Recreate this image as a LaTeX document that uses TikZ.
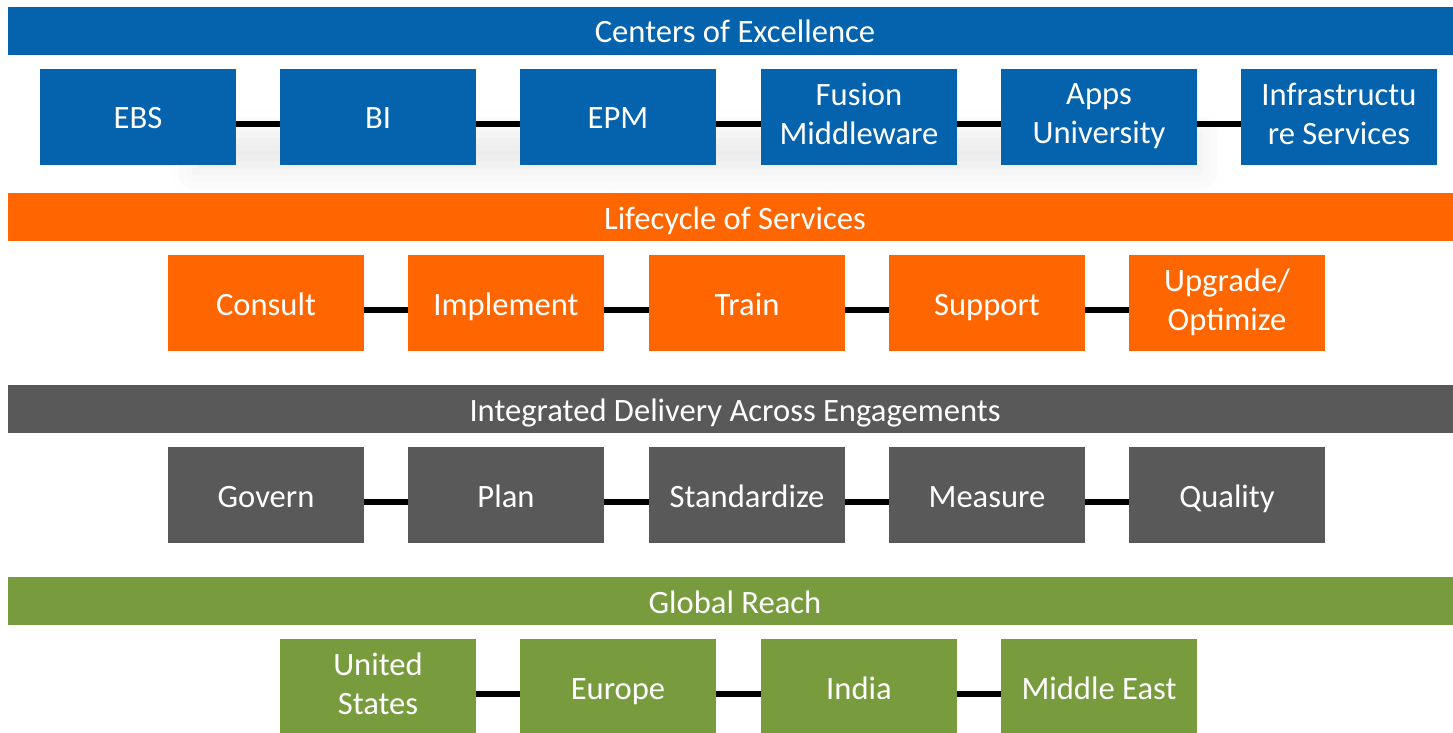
\documentclass[tikz,border=0pt]{standalone}
\usepackage{fontspec}
\setmainfont{Carlito}
\usetikzlibrary{shadows.blur}
\definecolor{coeblue}{RGB}{4,99,172}
\definecolor{lifeorange}{RGB}{255,102,0}
\definecolor{delgray}{RGB}{89,89,89}
\definecolor{reachgreen}{RGB}{119,155,61}
\newcommand{\linestrut}{\rule{0pt}{15pt}\rule[-3pt]{0pt}{3pt}}
\begin{document}
\begin{tikzpicture}[x=0.5pt, y=-0.5pt,
  band/.style={fill=#1, text=white, minimum width=727pt, minimum height=24pt, inner sep=0pt, font=\fontsize{16.3}{19.5}\selectfont, execute at begin node=\linestrut},
  tile/.style={fill=#1, text=white, minimum width=98pt, minimum height=48pt, inner sep=0pt, align=center, font=\fontsize{16.3}{19.5}\selectfont, execute at begin node=\linestrut, execute at end node=\linestrut},
  link/.style={line width=3pt, black}]

\useasboundingbox (0,0) rectangle (1453,733);

% soft shadow under the first row
\path[blur shadow={shadow xshift=0pt, shadow yshift=-6pt, shadow blur radius=12pt, shadow opacity=8}] (195,122) rectangle (1200,160);

\node[band=coeblue] (coe) at (735,31) {Centers of Excellence};
\node[tile=coeblue] (ebs) at (138,117) {EBS};
\node[tile=coeblue] (bi) at (378,117) {BI};
\node[tile=coeblue] (epm) at (618,117) {EPM};
\node[tile=coeblue] (fmw) at (859,117) {Fusion\\Middleware};
\node[tile=coeblue] (apps) at (1099,117) {Apps\\University};
\node[tile=coeblue] (infra) at (1339,117) {Infrastructu\\re Services};

\node[band=lifeorange] (life) at (735,217) {Lifecycle of Services};
\node[tile=lifeorange] (consult) at (266,303) {Consult};
\node[tile=lifeorange] (impl) at (506,303) {Implement};
\node[tile=lifeorange] (train) at (747,303) {Train};
\node[tile=lifeorange] (support) at (987,303) {Support};
\node[tile=lifeorange] (upgrade) at (1227,303) {Upgrade/\\Optimize};

\node[band=delgray] (deliv) at (735,409) {Integrated Delivery Across Engagements};
\node[tile=delgray] (govern) at (266,495) {Govern};
\node[tile=delgray] (plan) at (506,495) {Plan};
\node[tile=delgray] (stand) at (747,495) {Standardize};
\node[tile=delgray] (measure) at (987,495) {Measure};
\node[tile=delgray] (quality) at (1227,495) {Quality};

\node[band=reachgreen] (reach) at (735,601) {Global Reach};
\node[tile=reachgreen] (us) at (378,687) {United\\States};
\node[tile=reachgreen] (europe) at (618,687) {Europe};
\node[tile=reachgreen] (india) at (859,687) {India};
\node[tile=reachgreen] (mideast) at (1099,687) {Middle East};

% connectors sit a little below the middle of the tiles
\draw[link] ([yshift=-3.5pt]ebs.east) -- ([yshift=-3.5pt]bi.west);
\draw[link] ([yshift=-3.5pt]bi.east) -- ([yshift=-3.5pt]epm.west);
\draw[link] ([yshift=-3.5pt]epm.east) -- ([yshift=-3.5pt]fmw.west);
\draw[link] ([yshift=-3.5pt]fmw.east) -- ([yshift=-3.5pt]apps.west);
\draw[link] ([yshift=-3.5pt]apps.east) -- ([yshift=-3.5pt]infra.west);

\draw[link] ([yshift=-3.5pt]consult.east) -- ([yshift=-3.5pt]impl.west);
\draw[link] ([yshift=-3.5pt]impl.east) -- ([yshift=-3.5pt]train.west);
\draw[link] ([yshift=-3.5pt]train.east) -- ([yshift=-3.5pt]support.west);
\draw[link] ([yshift=-3.5pt]support.east) -- ([yshift=-3.5pt]upgrade.west);

\draw[link] ([yshift=-3.5pt]govern.east) -- ([yshift=-3.5pt]plan.west);
\draw[link] ([yshift=-3.5pt]plan.east) -- ([yshift=-3.5pt]stand.west);
\draw[link] ([yshift=-3.5pt]stand.east) -- ([yshift=-3.5pt]measure.west);
\draw[link] ([yshift=-3.5pt]measure.east) -- ([yshift=-3.5pt]quality.west);

\draw[link] ([yshift=-3.5pt]us.east) -- ([yshift=-3.5pt]europe.west);
\draw[link] ([yshift=-3.5pt]europe.east) -- ([yshift=-3.5pt]india.west);
\draw[link] ([yshift=-3.5pt]india.east) -- ([yshift=-3.5pt]mideast.west);
\end{tikzpicture}
\end{document}
